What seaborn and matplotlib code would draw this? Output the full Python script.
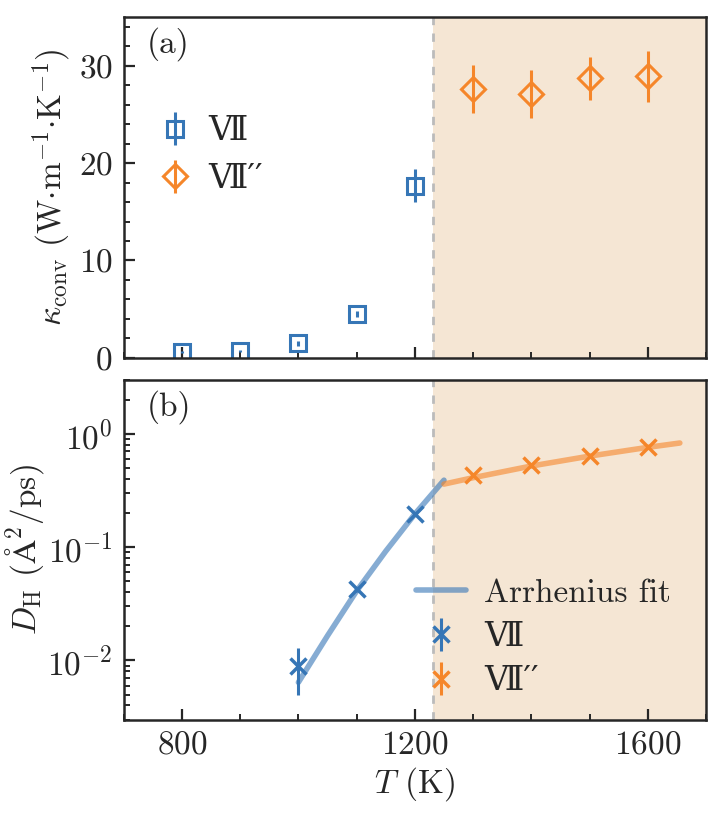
import matplotlib
matplotlib.use("Agg")
import matplotlib.pyplot as plt
import seaborn as sns
import pandas as pd
from matplotlib.ticker import MultipleLocator, LogLocator, NullFormatter

# --- data ---
T_VII = [800, 900, 1000, 1100, 1200]
kappa_VII = [0.55, 0.7, 1.5, 4.5, 17.7]
kappa_VII_err = [0.1, 0.1, 0.25, 0.3, 1.7]

T_VIIp = [1300, 1400, 1500, 1600]
kappa_VIIp = [27.6, 27.1, 28.7, 28.9]
kappa_VIIp_err = [2.5, 2.5, 2.25, 2.65]

T_D_VII = [1000, 1100, 1200]
D_VII = [0.0090, 0.0423, 0.197]
D_VII_err = [0.0040, 0.002, 0.008]

T_D_VIIp = [1300, 1400, 1500, 1600]
D_VIIp = [0.43, 0.526, 0.636, 0.762]
D_VIIp_err = [0.01, 0.01, 0.01, 0.01]

# Arrhenius fit curves
fit_T_VII = [1000, 1050, 1100, 1150, 1200, 1250]
fit_D_VII = [0.0064, 0.0165, 0.041, 0.092, 0.196, 0.39]
fit_T_VIIp = [1250, 1300, 1400, 1500, 1600, 1655]
fit_D_VIIp = [0.36, 0.41, 0.52, 0.636, 0.76, 0.83]

T_transition = 1231

blue = "#3676b6"
orange = "#f5862a"
shade = "#f5e6d4"

sns.set_style("ticks")
plt.rcParams['font.family'] = ['cmr10', 'DejaVu Serif', 'Noto Sans CJK JP']
plt.rcParams['mathtext.fontset'] = 'cm'
plt.rcParams['axes.formatter.use_mathtext'] = True
plt.rcParams['font.size'] = 24
plt.rcParams['axes.linewidth'] = 1.8
plt.rcParams['axes.unicode_minus'] = True

fig = plt.figure(figsize=(7.19, 8.15), dpi=100)
ax1 = fig.add_axes([0.172, 0.561, 0.810, 0.418])
ax2 = fig.add_axes([0.172, 0.117, 0.810, 0.417], sharex=ax1)

lab1 = "Ⅶ"
lab2 = "Ⅶ\u2032\u2032"

# --- (a) kappa_conv ---
for ax in (ax1, ax2):
    ax.axvspan(T_transition, 1700, color=shade, zorder=0, lw=0)
    ax.axvline(T_transition, color="#bbbbbb", ls=(0, (3, 3)), lw=2, zorder=1)

ax1.errorbar(T_VII, kappa_VII, yerr=kappa_VII_err, fmt='s', ms=12, mfc='none',
             mec=blue, mew=2.2, color=blue, elinewidth=2.2, capsize=0, label=lab1, zorder=3)
ax1.errorbar(T_VIIp, kappa_VIIp, yerr=kappa_VIIp_err, fmt='D', ms=12.5, mfc='none',
             mec=orange, mew=2.2, color=orange, elinewidth=2.2, capsize=0, label=lab2, zorder=3)
ax1.set_ylim(0, 35)
ax1.set_xlim(700, 1700)
ax1.yaxis.set_major_locator(MultipleLocator(10))
ax1.yaxis.set_minor_locator(MultipleLocator(2))
ax1.set_ylabel(r"$\kappa_{\rm conv}$ (W$\cdot$m$^{-1}$$\cdot$K$^{-1}$)", labelpad=4)
ax1.text(0.04, 0.97, "(a)", transform=ax1.transAxes, va='top', ha='left')
ax1.legend(loc='upper left', bbox_to_anchor=(0.02, 0.775), frameon=False,
           handlelength=1.0, handletextpad=0.5, labelspacing=0.55, borderaxespad=0.3)
ax1.tick_params(labelbottom=False)

# --- (b) D_H ---
fit_df = pd.DataFrame({"T": fit_T_VII + fit_T_VIIp,
                       "D": fit_D_VII + fit_D_VIIp,
                       "phase": ["VII"] * len(fit_T_VII) + ["VIIp"] * len(fit_T_VIIp)})
sns.lineplot(data=fit_df, x="T", y="D", hue="phase", palette={"VII": blue, "VIIp": orange},
             lw=4, alpha=0.6, ax=ax2, legend=False, zorder=2)
ax2.plot([], [], color=blue, lw=4, alpha=0.6, label="Arrhenius fit")
ax2.errorbar(T_D_VII, D_VII, yerr=D_VII_err, fmt='x', ms=12, mew=2.5, color=blue,
             elinewidth=2.2, capsize=0, label=lab1, zorder=3)
ax2.errorbar(T_D_VIIp, D_VIIp, yerr=D_VIIp_err, fmt='x', ms=12, mew=2.5, color=orange,
             elinewidth=2.2, capsize=0, label=lab2, zorder=3)
ax2.set_yscale('log')
ax2.set_ylim(3e-3, 3)
ax2.yaxis.set_major_locator(LogLocator(base=10, numticks=10))
ax2.yaxis.set_minor_locator(LogLocator(base=10, subs=range(2, 10), numticks=20))
ax2.yaxis.set_minor_formatter(NullFormatter())
ax2.set_ylabel(r"$D_{\rm H}$ ($\rm\AA^2$/ps)", labelpad=1)
ax2.set_xlabel(r"$T$ (K)", labelpad=4)
ax2.text(0.04, 0.97, "(b)", transform=ax2.transAxes, va='top', ha='left')
ax2.legend(loc='lower left', bbox_to_anchor=(0.462, 0.0), frameon=False,
           handlelength=1.5, handletextpad=0.55, labelspacing=0.45, borderaxespad=0.3)

ax2.xaxis.set_major_locator(MultipleLocator(400))
ax2.xaxis.set_minor_locator(MultipleLocator(100))

for ax in (ax1, ax2):
    ax.tick_params(which='major', direction='in', length=8, width=1.6, top=False, right=False, pad=8)
    ax.tick_params(which='minor', direction='in', length=4.5, width=1.4, top=False, right=False)
    for s in ax.spines.values():
        s.set_zorder(5)

fig.savefig("out.png", dpi=100)
